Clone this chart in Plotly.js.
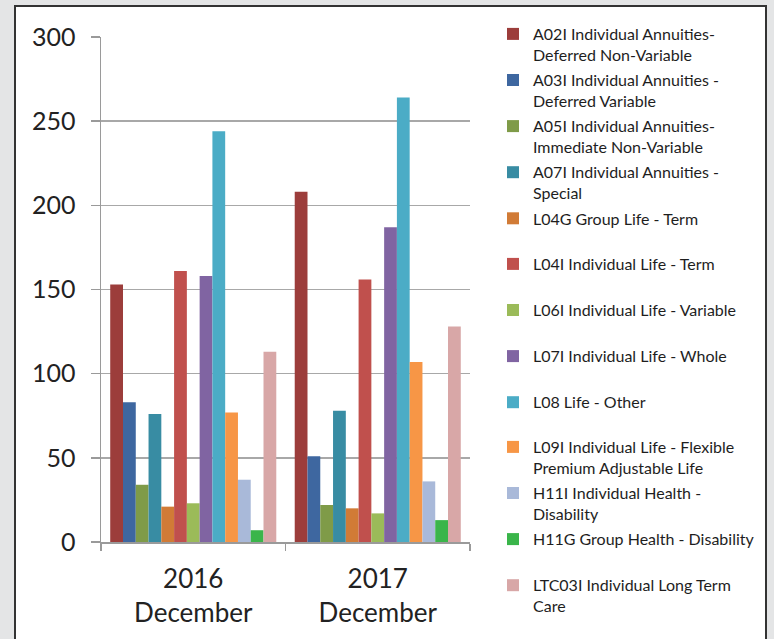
<!DOCTYPE html>
<html>
<head>
<meta charset="utf-8">
<script src="https://cdn.plot.ly/plotly-3.0.1.min.js"></script>
<style>html,body{margin:0;padding:0;background:#e4e5e6;}#chart{width:774px;height:639px;}</style>
</head>
<body>
<div id="chart"></div>
<script>
var categories = ["2016<br>December", "2017<br>December"];
var seriesNames = [
  "A02I Individual Annuities-<br>Deferred Non-Variable",
  "A03I Individual Annuities -<br>Deferred Variable",
  "A05I Individual Annuities-<br>Immediate Non-Variable",
  "A07I Individual Annuities -<br>Special",
  "L04G Group Life - Term<br> ",
  "L04I Individual Life - Term<br> ",
  "L06I Individual Life - Variable<br> ",
  "L07I Individual Life - Whole<br> ",
  "L08 Life - Other<br> ",
  "L09I Individual Life - Flexible<br>Premium Adjustable Life",
  "H11I Individual Health -<br>Disability",
  "H11G Group Health - Disability<br> ",
  "LTC03I Individual Long Term<br>Care"
];
var values2016 = [153, 83, 34, 76, 21, 161, 23, 158, 244, 77, 37, 7, 113];
var values2017 = [208, 51, 22, 78, 20, 156, 17, 187, 264, 107, 36, 13, 128];
var colors = ["#9c3d3b", "#3e67a0", "#7f9b48", "#388ca3", "#d17b36", "#c0504d",
  "#9bbb59", "#8064a2", "#4bacc6", "#f79646", "#a9b9d9", "#3ab54a", "#d8a7a7"];
var yTicks = [0, 50, 100, 150, 200, 250, 300];

// legend blocks (split so each block fits Plotly's max legend height)
var legendOf = [0, 0, 0, 0, 0, 1, 1, 1, 1, 2, 2, 2, 2];
var legendIds = ["legend", "legend2", "legend3"];
var legendTops = [17, 247, 430];

var traces = seriesNames.map(function (name, i) {
  return {
    type: "bar",
    name: name,
    x: categories,
    y: [values2016[i], values2017[i]],
    marker: { color: colors[i], line: { width: 0 } },
    legendgroup: "g" + i,
    legend: legendIds[legendOf[i]],
    hoverinfo: "y+name"
  };
});

var W = 774, H = 639;
var mL = 101, mR = 304, mT = 37, mB = 97;
var pw = W - mL - mR, ph = H - mT - mB;
function px2x(p) { return (p - mL) / pw; }
function py2y(p) { return (H - mB - p) / ph; }

function makeLegend(top) {
  return {
    xref: "container", yref: "container",
    x: 493 / W, xanchor: "left",
    y: 1 - top / H, yanchor: "top",
    valign: "top",
    bgcolor: "rgba(0,0,0,0)",
    tracegroupgap: 1.5,
    font: { family: "Lato, sans-serif", size: 16, color: "#1e1e1e" },
    traceorder: "grouped"
  };
}

var layout = {
  width: W, height: H,
  margin: { l: mL, r: mR, t: mT, b: mB, pad: 0 },
  paper_bgcolor: "#e4e5e6",
  plot_bgcolor: "#ffffff",
  barmode: "group",
  bargap: 0.1,
  bargroupgap: 0,
  font: { family: "Lato, 'Open Sans', sans-serif", color: "#222222" },
  showlegend: true,
  legend: makeLegend(legendTops[0]),
  legend2: makeLegend(legendTops[1]),
  legend3: makeLegend(legendTops[2]),
  xaxis: {
    type: "category",
    tickson: "boundaries",
    ticks: "outside",
    ticklen: 7,
    tickcolor: "#9a9a9a",
    tickwidth: 1.5,
    showline: true,
    linecolor: "#9a9a9a",
    linewidth: 1.5,
    showgrid: false,
    tickfont: { family: "Lato, sans-serif", size: 26, color: "#222222" },
    ticklabelstandoff: 13,
    fixedrange: true
  },
  yaxis: {
    range: [0, 300],
    tickvals: yTicks,
    ticktext: yTicks.map(String),
    ticks: "outside",
    ticklen: 9,
    tickcolor: "#9a9a9a",
    tickwidth: 1.5,
    showline: true,
    linecolor: "#9a9a9a",
    linewidth: 1.5,
    showgrid: true,
    gridcolor: "#a8a8a8",
    gridwidth: 1.5,
    zeroline: false,
    tickfont: { family: "Lato, sans-serif", size: 25, color: "#222222" },
    ticklabelstandoff: 10,
    fixedrange: true
  },
  shapes: [{
    type: "rect", xref: "paper", yref: "paper", layer: "below",
    x0: px2x(15), x1: px2x(766), y0: py2y(660), y1: py2y(6),
    fillcolor: "#ffffff",
    line: { color: "#333333", width: 2 }
  }]
};

Plotly.newPlot("chart", traces, layout, { displayModeBar: false, staticPlot: true });
</script>
</body>
</html>
